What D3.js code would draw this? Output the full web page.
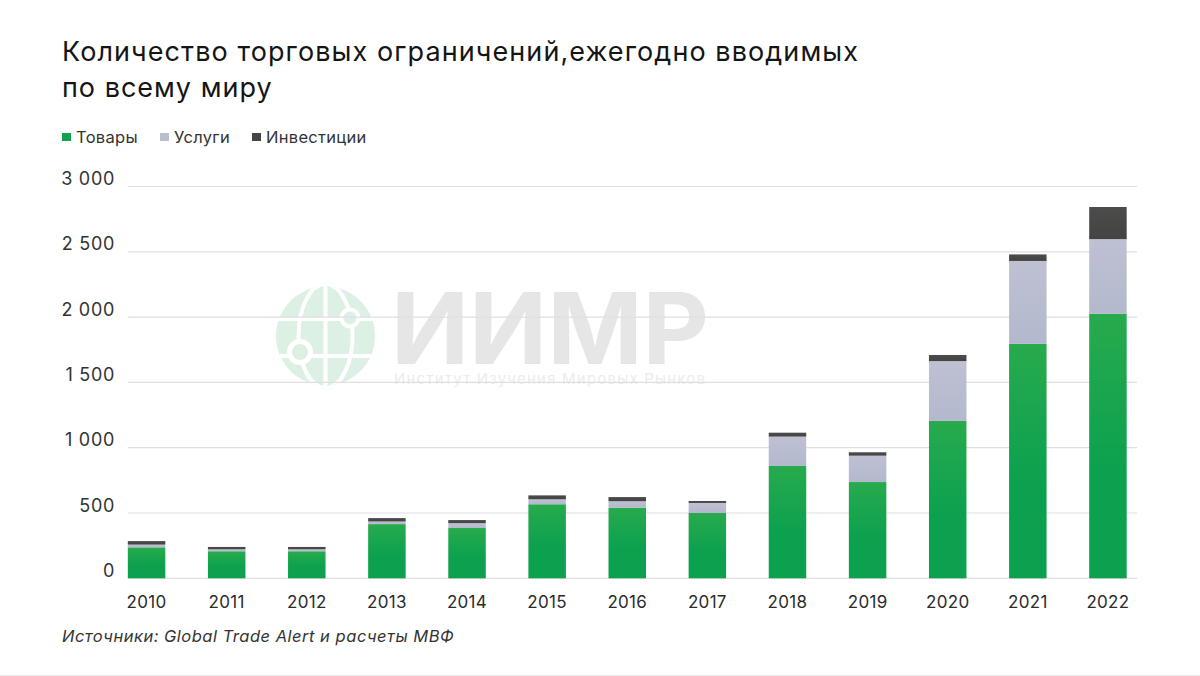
<!DOCTYPE html>
<html lang="ru"><head><meta charset="utf-8">
<script src="https://cdn.jsdelivr.net/npm/d3@7"></script>
<style>html,body{margin:0;padding:0;background:#fff}svg{display:block}text{font-family:Inter,"Noto Sans",sans-serif}</style>
</head><body><svg id="c" width="1200" height="676"></svg>
<script>
const years=["2010","2011","2012","2013","2014","2015","2016","2017","2018","2019","2020","2021","2022"];
const goods=[237,207,207,415,385,567,541,500,860,737,1205,1795,2025];
const services=[21,15,15,20,37,38,49,77,225,202,458,635,572];
const investments=[27,18,18,26,24,30,32,15,30,26,47,50,246];
const seriesNames=["Товары","Услуги","Инвестиции"];
const seriesColors=["#12a24f","#b9bdd0","#454545"];
const yTicks=[0,500,1000,1500,2000,2500,3000];
const yTickLabels=["0","500","1 000","1 500","2 000","2 500","3 000"];
const titleLines=["Количество торговых ограничений,ежегодно вводимых","по всему миру"];
const sourceText="Источники: Global Trade Alert и расчеты МВФ";

const svg=d3.select("#c");
const defs=svg.append("defs");
const grad=(id,a,b,o)=>{const g=defs.append("linearGradient").attr("id",id).attr("x1",0).attr("x2",0).attr("y1",0).attr("y2",1);
 g.append("stop").attr("offset",0).attr("stop-color",a);g.append("stop").attr("offset",o).attr("stop-color",b);};
grad("g0","#28aa4d","#0ba14f",0.6);grad("g1","#bec1d2","#b3b8cd",1);grad("g2","#4c4c4b","#434343",1);

const y=d3.scaleLinear().domain([0,3000]).range([578.3,186.5]);
const x=d3.scaleBand().domain(years).range([106.5,1148]).paddingInner(0.532).paddingOuter(0.266);

// watermark
const wm=svg.append("g");
const gc=[325.5,336],gr=49.5,gFill="#dcf1e3";
defs.append("clipPath").attr("id","gl").append("circle").attr("cx",gc[0]).attr("cy",gc[1]).attr("r",gr);
wm.append("circle").attr("cx",gc[0]).attr("cy",gc[1]).attr("r",gr).attr("fill",gFill);
const gl=wm.append("g").attr("clip-path","url(#gl)").attr("fill","none").attr("stroke","#fff").attr("stroke-width",4);
gl.append("line").attr("x1",gc[0]).attr("x2",gc[0]).attr("y1",280).attr("y2",390);
gl.append("ellipse").attr("cx",gc[0]).attr("cy",gc[1]).attr("rx",27).attr("ry",52);
gl.append("line").attr("x1",270).attr("x2",380).attr("y1",319).attr("y2",319);
gl.append("line").attr("x1",270).attr("x2",380).attr("y1",356).attr("y2",356);
[[350,318,8.5,4],[300,352,10.5,5]].forEach(d=>wm.append("circle").attr("cx",d[0]).attr("cy",d[1]).attr("r",d[2]).attr("fill",gFill).attr("stroke","#fff").attr("stroke-width",d[3]));
wm.append("text").attr("x",391).attr("y",364).attr("font-size",99).attr("font-weight",700).attr("fill","#e6e6e6").attr("textLength",318).attr("lengthAdjust","spacingAndGlyphs").text("ИИМР");
wm.append("text").attr("x",394).attr("y",384).attr("font-size",15).attr("fill","#ececec").attr("textLength",311).text("Институт Изучения Мировых Рынков");

// grid and y labels
const grid=svg.append("g");
grid.selectAll("line").data(yTicks).join("line").attr("x1",128).attr("x2",1137)
 .attr("y1",d=>y(d)).attr("y2",d=>y(d)).attr("stroke","#dfdfdf").attr("stroke-width",1.2);
svg.append("g").selectAll("text").data(yTicks).join("text").attr("x",115).attr("y",d=>y(d)-1.5)
 .attr("text-anchor","end").attr("font-size",18).attr("letter-spacing",0.7).attr("fill","#333").text((d,i)=>yTickLabels[i]);

// bars
const rows=years.map((yr,i)=>({year:yr,s0:goods[i],s1:services[i],s2:investments[i]}));
const stack=d3.stack().keys(["s0","s1","s2"])(rows);
svg.append("g").selectAll("g").data(stack).join("g").attr("fill",(d,i)=>`url(#g${i})`)
 .selectAll("rect").data(d=>d).join("rect").attr("x",d=>x(d.data.year)).attr("width",x.bandwidth())
 .attr("y",d=>y(d[1])).attr("height",d=>y(d[0])-y(d[1]));

// x labels
svg.append("g").selectAll("text").data(years).join("text").attr("x",d=>x(d)+x.bandwidth()/2).attr("y",608)
 .attr("text-anchor","middle").attr("font-size",17).attr("letter-spacing",0.3).attr("fill","#2b2b2b").text(d=>d);

// title
svg.append("g").selectAll("text").data(titleLines).join("text").attr("x",62).attr("y",(d,i)=>61+i*36)
 .attr("font-size",27).attr("letter-spacing",(d,i)=>i?1.0:null).attr("fill","#151515").text(d=>d)
 .filter((d,i)=>i===0).attr("textLength",796).attr("lengthAdjust","spacing");

// legend
const lx=[62,160,252];
const leg=svg.append("g");
seriesNames.forEach((n,i)=>{
 leg.append("rect").attr("x",lx[i]).attr("y",133).attr("width",9).attr("height",8).attr("fill",seriesColors[i]);
 leg.append("text").attr("x",lx[i]+14).attr("y",143).attr("font-size",16.5).attr("letter-spacing",0.3).attr("fill","#333").text(n);
});

svg.append("text").attr("x",62).attr("y",642).attr("font-size",16.5).attr("font-style","italic").attr("letter-spacing",0.5).attr("fill","#333").text(sourceText);
svg.append("line").attr("x1",0).attr("x2",1200).attr("y1",675.5).attr("y2",675.5).attr("stroke","#e8e8e8");
</script></body></html>
